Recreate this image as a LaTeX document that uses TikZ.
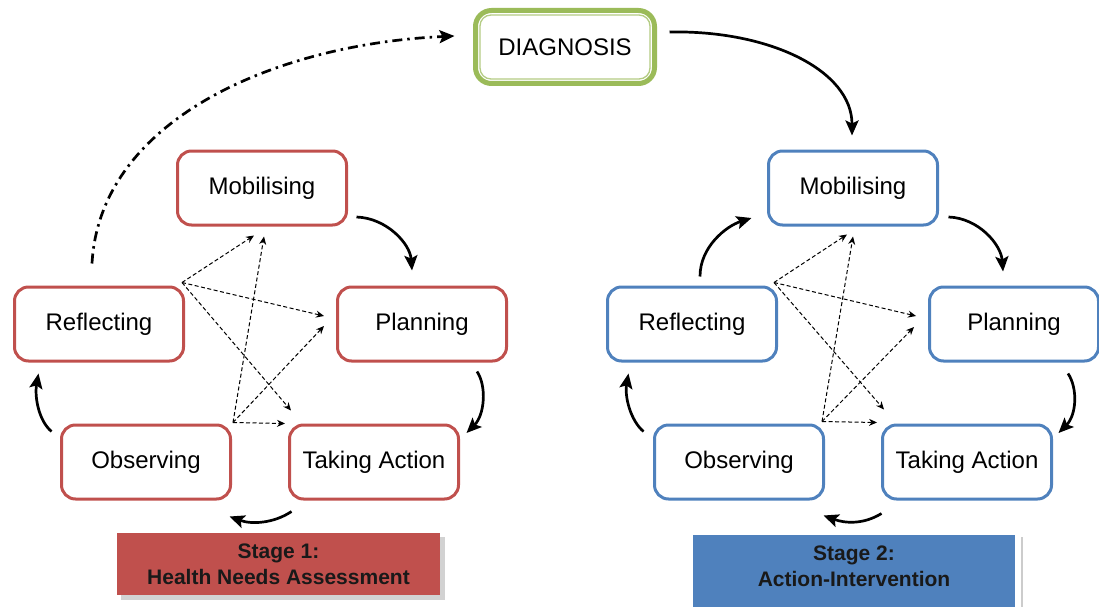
\documentclass[tikz,border=0pt]{standalone}
\usepackage{fontspec}
\setmainfont{Liberation Sans}
\usetikzlibrary{arrows.meta,calc}
\definecolor{redb}{HTML}{C0504D}
\definecolor{blueb}{HTML}{4F81BD}
\definecolor{greenb}{HTML}{9BBB59}
\begin{document}
\begin{tikzpicture}[x=1pt,y=-1pt,
 box/.style={draw, rounded corners=14pt, line width=3pt, minimum width=169pt, minimum height=74pt, fill=white, inner sep=0pt, font=\fontsize{24}{28}\selectfont},
 redbox/.style={box, draw=redb},
 bluebox/.style={box, draw=blueb},
 cyc/.style={line width=2.7pt, -{Stealth[length=15pt,width=13pt,inset=3pt]}},
 dsh/.style={line width=1pt, dash pattern=on 4pt off 2.5pt, -{Stealth[length=8pt,width=7pt]}},
 dashdot/.style={line width=2.7pt, dash pattern=on 10pt off 5pt on 2.5pt off 5pt, -{Stealth[length=15pt,width=13pt,inset=3pt]}},
 stagetext/.style={font=\fontsize{21}{26}\selectfont\bfseries, align=center, text=black!90, inner sep=0pt}]
\useasboundingbox (0,0) rectangle (1099,607);

% Diagnosis
\node[box, draw=greenb, line width=5pt, minimum width=179pt, minimum height=73pt, rounded corners=16pt] (diag) at (565,47) {DIAGNOSIS};
\draw[greenb!75, line width=1.3pt, rounded corners=11pt] ($(diag.north west)+(7,7)$) rectangle ($(diag.south east)+(-7,-7)$);

% Left cycle
\node[redbox] (mobL)  at (262,188) {Mobilising};
\node[redbox] (reflL) at (99,324)  {Reflecting};
\node[redbox] (planL) at (422,324) {Planning};
\node[redbox] (obsL)  at (146,462) {Observing};
\node[redbox] (taL)   at (374,462) {Taking Action};

% Right cycle
\node[bluebox] (mobR)  at (853,188)  {Mobilising};
\node[bluebox] (reflR) at (692,324)  {Reflecting};
\node[bluebox] (planR) at (1014,324) {Planning};
\node[bluebox] (obsR)  at (739,462)  {Observing};
\node[bluebox] (taR)   at (967,462)  {Taking Action};

% Stage boxes
\fill[gray!35] (121,537) rectangle (445,600);
\node[fill=redb, minimum width=323pt, minimum height=62pt, stagetext] (st1) at (278.5,564) {Stage 1:\\Health Needs Assessment};
\draw[gray!40, line width=1.5pt] (1022,537) -- (1022,607);
\fill[blueb] (693,560) rectangle (1015,607);
\node[fill=blueb, minimum width=322pt, minimum height=62pt, stagetext] (st2) at (854,566) {Stage 2:\\Action-Intervention};

% Left cycle arrows
\draw[cyc] ($(mobL.east)+(8.5,29)$) .. controls +(30,1) and +(-2,-27) .. ($(planL.north)+(-10,-15)$);
\draw[cyc] ($(planL.south)+(55,9)$) .. controls +(10,15) and +(18,-18) .. ($(taL.east)+(6.5,-29)$);
\draw[cyc] ($(taL.south west)+(3.5,11)$) .. controls +(-18,12) and +(22,8) .. ($(obsL.south east)+(-2.5,16)$);
\draw[cyc] ($(obsL.north west)+(-8.5,8)$) .. controls +(-13,-11) and +(-4,23) .. ($(reflL.south west)+(25.5,11)$);

% Right cycle arrows
\draw[cyc] ($(diag.east)+(12.5,-15)$) .. controls +(100,-2) and +(0,-65) .. ($(mobR.north)+(-1,-14)$);
\draw[cyc] ($(reflR.north)+(8,-9)$) .. controls +(0,-30) and +(-25,8) .. ($(mobR.west)+(-15.5,30)$);
\draw[cyc] ($(mobR.east)+(9.5,29)$) .. controls +(30,1) and +(-2,-27) .. ($(planR.north)+(-11,-14)$);
\draw[cyc] ($(planR.south)+(54,11)$) .. controls +(10,15) and +(18,-18) .. ($(taR.east)+(5.5,-29)$);
\draw[cyc] ($(taR.south west)+(0.5,13)$) .. controls +(-18,11) and +(22,8) .. ($(obsR.south east)+(-1.5,15)$);
\draw[cyc] ($(obsR.north west)+(-9.5,8)$) .. controls +(-13,-11) and +(-4,23) .. ($(reflR.south west)+(22.5,11)$);

% Dash-dot feedback to diagnosis
\draw[dashdot] ($(reflL.north)+(-7,-22)$) .. controls +(8,-145) and +(-177,8) .. ($(diag.west)+(-18.5,-11)$);

% Dashed cross links, left
\coordinate (rcL) at ($(reflL.north east)+(-3,-3)$);
\coordinate (ocL) at ($(obsL.north east)+(1,-1)$);
\draw[dsh] (rcL) -- ($(mobL.south)+(-8,9)$);
\draw[dsh] (rcL) -- ($(planL.west)+(-12,-8)$);
\draw[dsh] (rcL) -- ($(taL.north west)+(3,-13)$);
\draw[dsh] (ocL) -- ($(mobL.south)+(2,10)$);
\draw[dsh] (ocL) -- ($(planL.west)+(-12,2)$);
\draw[dsh] (ocL) -- ($(taL.north west)+(-3,0)$);

% Dashed cross links, right
\coordinate (rcR) at ($(reflR.north east)+(-4,-3)$);
\coordinate (ocR) at ($(obsR.north east)+(-3,-2)$);
\draw[dsh] (rcR) -- ($(mobR.south)+(-6,8)$);
\draw[dsh] (rcR) -- ($(planR.west)+(-12,-8)$);
\draw[dsh] (rcR) -- ($(taR.north west)+(3,-14)$);
\draw[dsh] (ocR) -- ($(mobR.south)+(0,10)$);
\draw[dsh] (ocR) -- ($(planR.west)+(-14,3)$);
\draw[dsh] (ocR) -- ($(taR.north west)+(-4,-1)$);
\end{tikzpicture}
\end{document}
